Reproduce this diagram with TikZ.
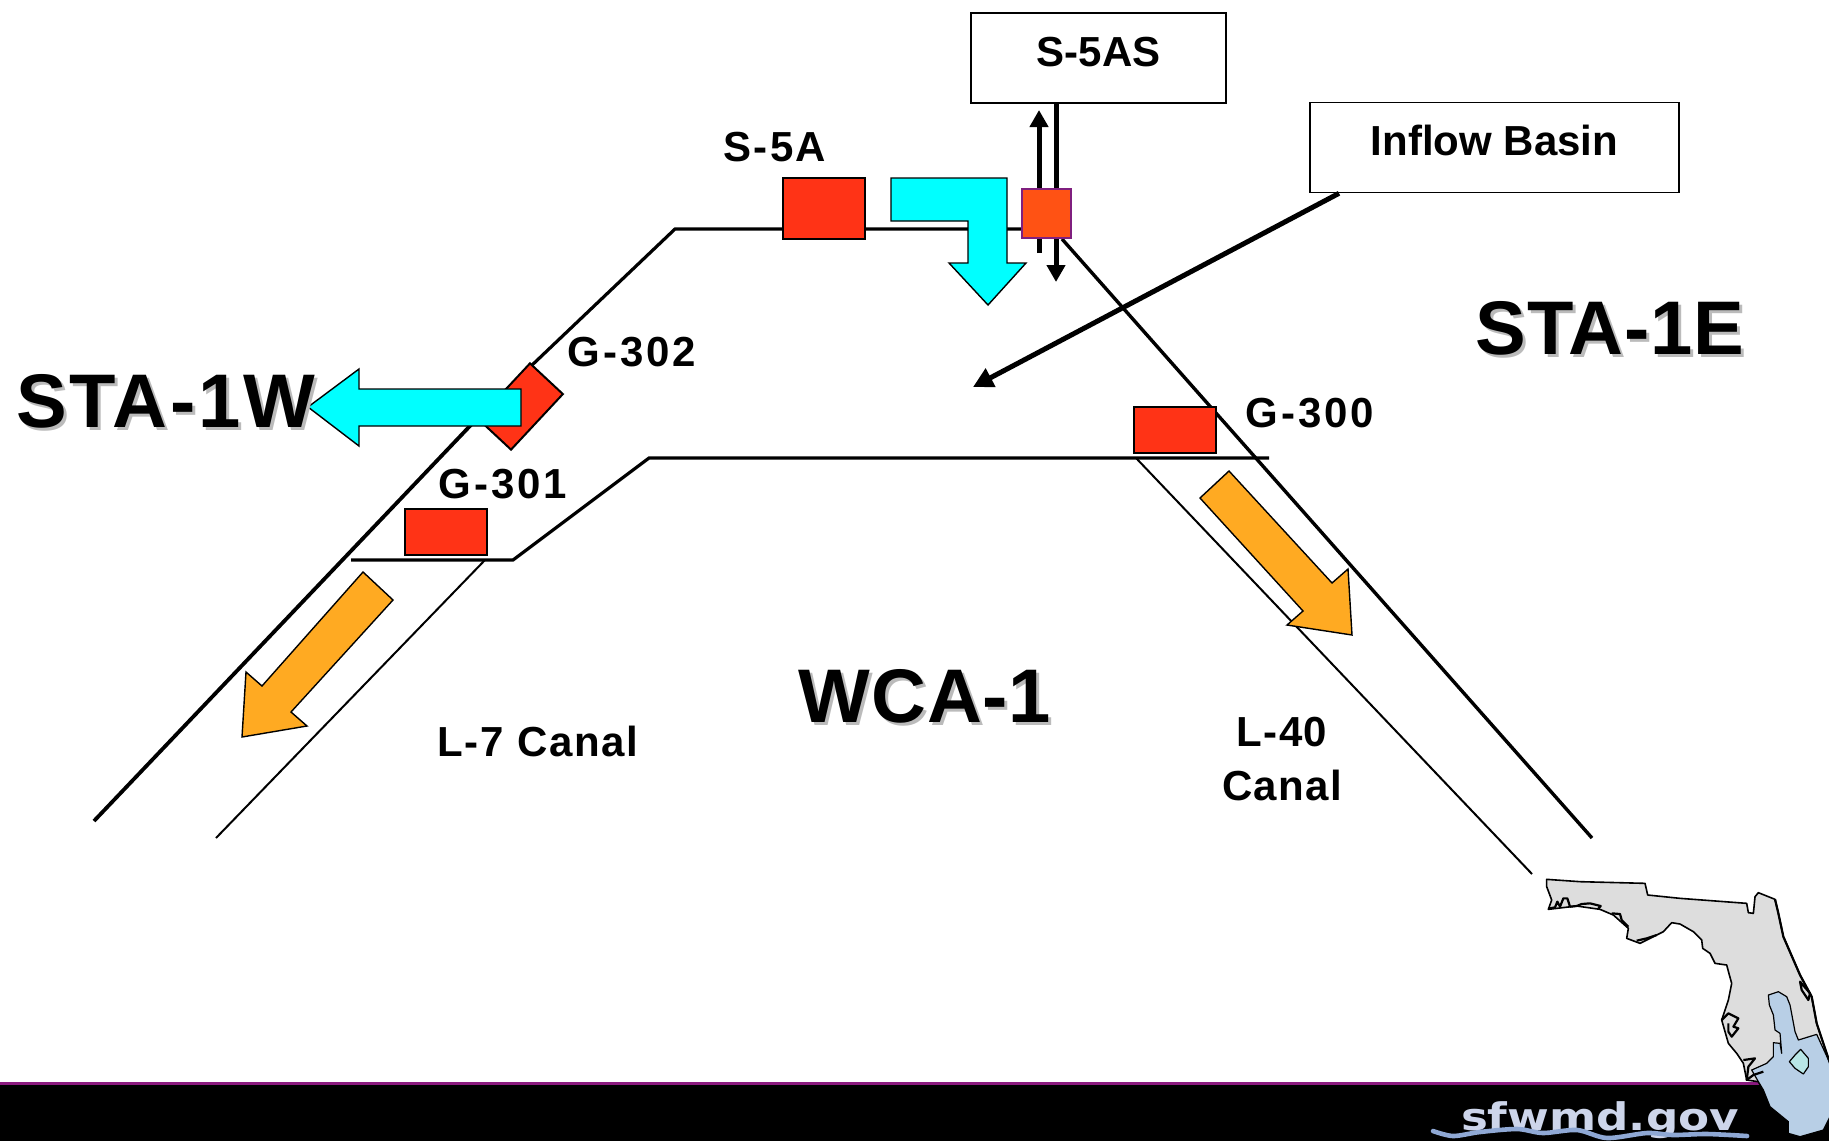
\documentclass[tikz,border=0pt]{standalone}
\usepackage{fontspec}
\setmainfont{Liberation Sans}
\newfontfamily\logofont{DejaVu Sans}
\usetikzlibrary{arrows.meta,positioning}
\definecolor{gatered}{HTML}{FF3316}
\definecolor{pumporange}{HTML}{FF5214}
\definecolor{pumpline}{HTML}{7F1F7F}
\definecolor{flowcyan}{HTML}{00FFFF}
\definecolor{canalorange}{HTML}{FFAA22}
\definecolor{shadegray}{HTML}{BBBBBB}
\definecolor{statgray}{HTML}{DDDDDD}
\definecolor{districtblue}{HTML}{B8CFE6}
\definecolor{lakeblue}{HTML}{B8E6E6}
\definecolor{logotext}{HTML}{CDD5EA}
\definecolor{logowave}{HTML}{8FA8D4}
\definecolor{bandpurple}{HTML}{8B1A7F}

\begin{document}
\begin{tikzpicture}[x=.5pt,y=-.5pt,>=Latex]
        \tikzset{gate/.style={draw,line width=1pt,fill=gatered,minimum width=41pt,minimum height=23pt,inner sep=0pt}}
        \tikzset{namebox/.style={draw,line width=.8pt,fill=white,inner sep=0pt,text height=26.5pt,text depth=18.5pt,font=\bfseries\fontsize{21}{25}\selectfont}}
        \tikzset{lbl/.style={anchor=base,font=\bfseries\fontsize{21}{27}\selectfont\addfontfeature{LetterSpace=#1},align=center},lbl/.default=6}
        \tikzset{biglbl/.style={anchor=base,font=\bfseries\fontsize{38}{44}\selectfont\addfontfeature{LetterSpace=#1}},biglbl/.default=1}
        \tikzset{bigshade/.style={biglbl=#1,text=shadegray},bigshade/.default=1}
        \tikzset{dike/.style={line width=1.7pt}}
        \tikzset{canal/.style={line width=1pt}}
        \tikzset{flow/.style={draw,line width=.7pt,fill=flowcyan}}
        \tikzset{outflow/.style={draw,line width=.7pt,fill=canalorange}}
        \tikzset{stem/.style={line width=2.5pt,-{Triangle[width=9pt,length=8.5pt]}}}
        \useasboundingbox (0,0) rectangle (1829,1141);
        % points of the levees
        \coordinate (swend) at (94,821);
        \coordinate (kink) at (488,407);
        \coordinate (nwcorner) at (675,229);
        \coordinate (pumpwest) at (1022,229);
        \coordinate (necorner) at (1062,239);
        \coordinate (seend) at (1592,838);
        \coordinate (l7end) at (216,838);
        \coordinate (l7top) at (485,560);
        \coordinate (g301left) at (351,560);
        \coordinate (g301right) at (513,560);
        \coordinate (crestleft) at (649,458);
        \coordinate (crestright) at (1269,458);
        \coordinate (l40top) at (1136,458);
        \coordinate (l40end) at (1532,874);
        % boxes
        \node[namebox,minimum width=127.5pt] (s5as) at (1098.5,58) {S-5AS};
        \node[namebox,minimum width=184.5pt] (inflow) at (1494.5,147.5) {Inflow Basin};
        \coordinate (upfoot) at (1039,253);
        \coordinate (uptip) at (1039,110);
        \coordinate (downtop) at (s5as.south -| 1056,0);
        \coordinate (downtip) at (1056,282);
        \coordinate (inflowfoot) at (inflow.south -| 1339,0);
        \coordinate (inflowtip) at (973,387);
        % levees
        \draw[line width=1.9pt] (swend) -- (kink);
        \draw[line width=1.6pt] (kink) -- (nwcorner) -- (pumpwest);
        \draw[dike] (necorner) -- (seend);
        \draw[canal] (l7end) -- (l7top);
        \draw[line width=1.6pt] (g301left) -- (g301right) -- (crestleft) -- (crestright);
        \draw[canal] (l40top) -- (l40end);
        % structures
        \node[gate,minimum height=30.5pt] (s5a) at (824,208.5) {};
        \node[gate,minimum width=38pt,minimum height=22.5pt] (g302) at (520.5,406.5) [rotate=47] {};
        \node[gate] (g301) at (446,532) {};
        \node[gate] (g300) at (1175,430) {};
        % flows
        \draw[stem] (upfoot) -- (uptip);
        \draw[stem] (downtop) -- (downtip);
        \draw[line width=2.5pt,-{Triangle[width=10pt,length=10pt]}] (inflowfoot) -- (inflowtip);
        \node[draw=pumpline,line width=1pt,fill=pumporange,minimum width=24.5pt,minimum height=24.5pt,inner sep=0pt] (s5as pump) at (1046.5,213.5) {};
        \draw[flow] (891,178) -- (1007,178) -- (1007,263) -- (1026,263) -- (988,305) -- (949,263) -- (968,263) -- (968,221) -- (891,221) -- cycle;
        \draw[flow] (308,407) -- (359,369) -- (359,389) -- (521,389) -- (521,426) -- (359,426) -- (359,446) -- cycle;
        \draw[outflow] (1229,471) -- (1332,583) -- (1348,569) -- (1352,635) -- (1287,625) -- (1303,611) -- (1200,498) -- cycle;
        \draw[outflow] (363,572) -- (262,686) -- (246,672) -- (242,737) -- (307,726) -- (291,712) -- (393,600) -- cycle;
        % labels
        \node[lbl=5.5] (s5alabel) at (775,161) {S-5A};
        \node[lbl=7] (g302label) at (632,366) {G-302};
        \node[lbl=7] (g301label) at (503,498) {G-301};
        \node[lbl=7] (g300label) at (1310,427) {G-300};
        \node[lbl=4] (l7label) at (538,756) {L-7 Canal};
        \node[lbl=3] (l40label) at (1282,800) {L-40\\Canal};
        \node[bigshade=3.5] (sta1wshade) at (168.5,430) {STA-1W};
        \node[biglbl=3.5] (sta1wlabel) at (165.5,427) {STA-1W};
        \node[bigshade] (sta1eshade) at (1613,357) {STA-1E};
        \node[biglbl] (sta1elabel) at (1610,354) {STA-1E};
        \node[bigshade] (wcashade) at (928,725) {WCA-1};
        \node[biglbl] (wcalabel) at (925,722) {WCA-1};
        % bottom band
        \fill[black] (0,1085) rectangle (1829,1141);
        \fill[bandpurple] (0,1082) rectangle (1829,1085);
        % state map
        \begin{scope}[shift={(1480,850)},x=.16667pt,y=-.16667pt,line width=.8pt,line join=round]
          \draw[fill=statgray] (200,88) -- (300,95) -- (495,100) -- (503,135) -- (600,145) -- (800,160) -- (805,188) -- (820,190) -- (825,140) -- (835,128) -- (885,148) -- (895,190) -- (910,260) -- (960,375) -- (995,440) -- (1010,520) -- (1050,640) -- (1050,800) -- (1030,840) -- (960,860) -- (925,850) -- (925,815) -- (870,770) -- (850,720) -- (835,695) -- (800,690) -- (790,640) -- (770,610) -- (745,580) -- (725,510) -- (745,450) -- (755,400) -- (748,375) -- (740,345) -- (705,340) -- (690,310) -- (668,295) -- (665,270) -- (640,245) -- (600,222) -- (575,218) -- (550,245) -- (480,280) -- (440,265) -- (445,235) -- (400,195) -- (360,178) -- (290,168) -- (205,178) -- (215,150) -- (200,110) -- cycle;
          \draw[fill=districtblue,line width=.6pt] (865,435) -- (895,425) -- (920,440) -- (930,465) -- (945,545) -- (955,570) -- (1010,553) -- (1050,640) -- (1050,800) -- (1030,840) -- (960,860) -- (925,850) -- (925,815) -- (870,770) -- (850,720) -- (835,695) -- (815,660) -- (860,640) -- (880,620) -- (880,578) -- (900,580) -- (905,610) -- (900,550) -- (885,540) -- (880,495) -- (868,465) -- cycle;
          \draw[fill=lakeblue,line width=.6pt] (962,598) -- (985,625) -- (985,650) -- (970,672) -- (945,655) -- (928,635) -- (945,615) -- cycle;
          % rough stretches of the coast
          \draw[line width=1.1pt] (885,148) -- (895,190) -- (910,260) -- (960,375) -- (995,440) -- (1010,520) -- (1050,640);
          \draw[line width=1.1pt] (205,176) -- (225,172) -- (232,155) -- (240,170) -- (250,145) -- (262,145) -- (270,170) -- (290,168) -- (305,162) -- (330,160) -- (362,168) -- (355,176);
          \draw[line width=1.1pt] (395,190) -- (420,192) -- (425,210) -- (445,230);
          \draw[line width=1.1pt] (470,272) -- (500,265) -- (530,255);
          \draw[line width=1.1pt] (725,510) -- (745,490) -- (775,505) -- (760,530) -- (775,535) -- (755,560) -- (745,545) -- (745,520);
          \draw[line width=1.1pt] (960,395) -- (990,430) -- (985,450) -- (965,420) -- cycle;
          \draw[line width=1.1pt] (790,630) -- (825,625) -- (805,650) -- (800,690) -- (820,675) -- (850,665);
        \end{scope}
        % logo
        \node[text=logotext,font=\logofont\bfseries\fontsize{19}{19}\selectfont,anchor=base,xscale=1.19] (logo) at (1600,1130) {sfwmd.gov};
        \draw[logowave,line width=2.3pt,line cap=round] plot[smooth] coordinates {(1433,1131) (1453,1136) (1480,1132) (1517,1129) (1543,1133) (1577,1130) (1607,1138) (1647,1133) (1673,1135) (1707,1134) (1747,1136)};
      \end{tikzpicture}
\end{document}
